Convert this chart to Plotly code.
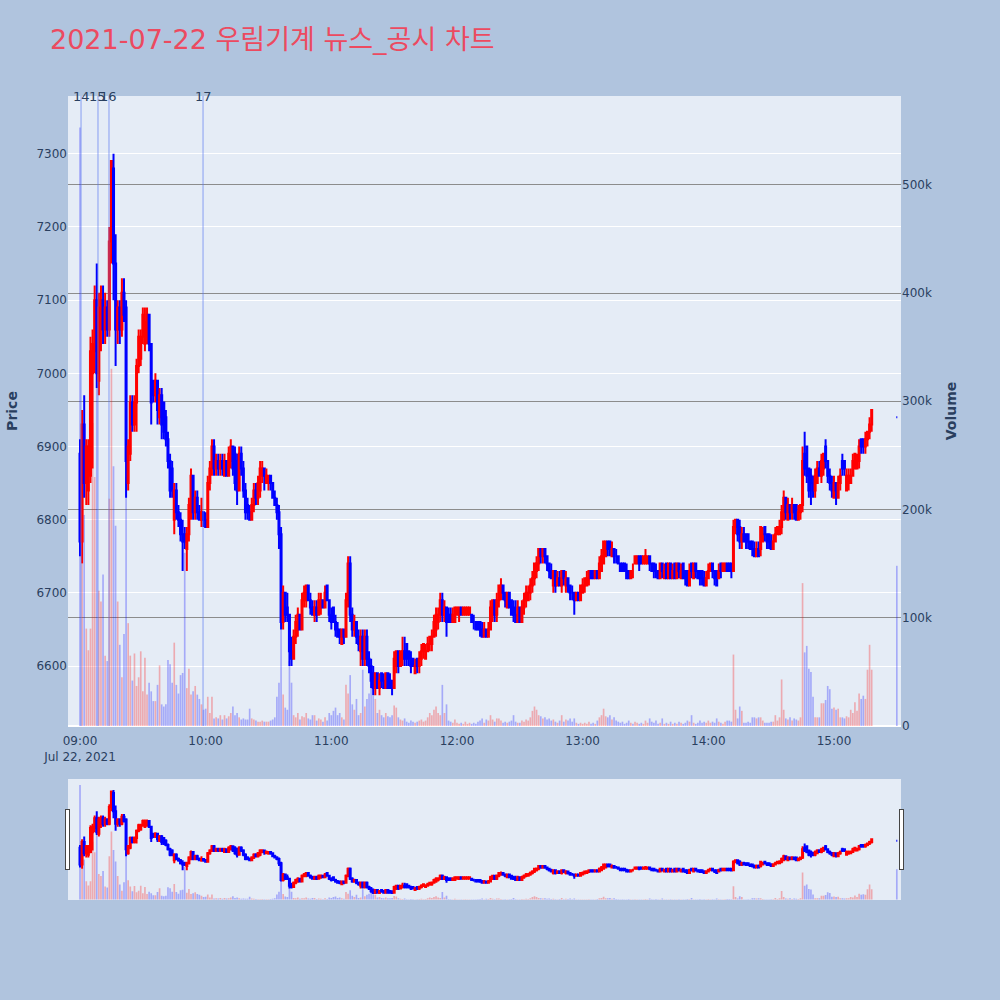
import pandas as pd
import plotly.graph_objects as go

# ---------------- data ----------------
session_start = "2021-07-22 09:00"
n_minutes = 379
closing_auction_time = "2021-07-22 15:30"

opens = [
    6890, 6770, 6930, 6850, 6840, 6860, 7000, 7030, 7100, 6990,
    7060, 7100, 7060, 7090, 7060, 7180, 7280, 7150, 7060, 7090,
    7060, 7110, 7090, 6850, 6890, 6960, 6930, 6960, 7010, 7020,
    7050, 7040, 7050, 7080, 7040, 6990, 6970, 6990, 6940, 6970,
    6960, 6940, 6910, 6880, 6870, 6800, 6840, 6810, 6800, 6780,
    6780, 6760, 6780, 6810, 6860, 6810, 6830, 6810, 6800, 6810,
    6800, 6790, 6850, 6870, 6900, 6870, 6880, 6870, 6880, 6860,
    6880, 6860, 6880, 6900, 6890, 6880, 6840, 6890, 6870, 6840,
    6820, 6810, 6800, 6820, 6840, 6830, 6840, 6860, 6870, 6850,
    6850, 6860, 6850, 6830, 6820, 6810, 6780, 6660, 6700, 6680,
    6670, 6620, 6610, 6640, 6650, 6670, 6650, 6690, 6690, 6710,
    6690, 6680, 6670, 6680, 6670, 6680, 6690, 6680, 6710, 6690,
    6670, 6680, 6660, 6650, 6650, 6630, 6650, 6640, 6690, 6740,
    6670, 6650, 6660, 6640, 6620, 6640, 6610, 6640, 6610, 6600,
    6590, 6570, 6590, 6570, 6590, 6580, 6570, 6590, 6580, 6580,
    6570, 6600, 6620, 6600, 6610, 6620, 6630, 6620, 6610, 6610,
    6590, 6610, 6600, 6610, 6620, 6610, 6620, 6630, 6630, 6640,
    6650, 6660, 6670, 6690, 6670, 6680, 6670, 6670, 6660, 6660,
    6670, 6670, 6680, 6670, 6670, 6670, 6670, 6670, 6660, 6660,
    6660, 6660, 6650, 6640, 6650, 6640, 6650, 6670, 6690, 6670,
    6690, 6700, 6710, 6700, 6680, 6700, 6690, 6680, 6670, 6660,
    6680, 6660, 6680, 6690, 6690, 6700, 6710, 6720, 6730, 6740,
    6760, 6750, 6760, 6750, 6740, 6730, 6710, 6730, 6710, 6720,
    6710, 6730, 6710, 6720, 6710, 6700, 6700, 6690, 6700, 6690,
    6700, 6710, 6710, 6720, 6730, 6730, 6720, 6730, 6720, 6730,
    6740, 6750, 6770, 6770, 6750, 6760, 6750, 6750, 6740, 6740,
    6740, 6730, 6730, 6720, 6730, 6740, 6740, 6750, 6750, 6740,
    6740, 6740, 6750, 6740, 6740, 6730, 6730, 6720, 6740, 6720,
    6740, 6720, 6740, 6720, 6740, 6720, 6740, 6720, 6740, 6730,
    6730, 6710, 6740, 6720, 6740, 6730, 6730, 6730, 6720, 6710,
    6720, 6730, 6740, 6730, 6730, 6720, 6740, 6730, 6730, 6740,
    6740, 6740, 6730, 6790, 6800, 6790, 6770, 6780, 6780, 6780,
    6770, 6770, 6760, 6750, 6760, 6760, 6770, 6790, 6780, 6780,
    6770, 6760, 6770, 6780, 6780, 6790, 6800, 6830, 6800, 6820,
    6810, 6820, 6820, 6800, 6810, 6820, 6890, 6900, 6870, 6860,
    6850, 6840, 6850, 6870, 6860, 6870, 6900, 6880, 6860, 6850,
    6830, 6850, 6830, 6850, 6880, 6880, 6840, 6850, 6850, 6860,
    6870, 6870, 6880, 6910, 6910, 6900, 6910, 6920, 6930,
    6940,
]
highs = [
    6910, 6950, 6970, 6910, 6910, 7050, 7060, 7120, 7150, 7110,
    7120, 7120, 7110, 7100, 7200, 7290, 7300, 7190, 7100, 7100,
    7130, 7130, 7100, 6910, 6970, 6970, 6970, 7020, 7060, 7060,
    7090, 7090, 7090, 7080, 7040, 6990, 7000, 6990, 6980, 6980,
    6960, 6950, 6920, 6890, 6880, 6850, 6850, 6820, 6810, 6800,
    6790, 6790, 6830, 6870, 6860, 6840, 6840, 6820, 6830, 6810,
    6810, 6860, 6880, 6910, 6910, 6890, 6890, 6890, 6890, 6890,
    6880, 6900, 6910, 6900, 6900, 6890, 6900, 6900, 6880, 6850,
    6830, 6820, 6830, 6850, 6850, 6860, 6880, 6880, 6870, 6870,
    6860, 6860, 6850, 6840, 6830, 6820, 6790, 6710, 6700, 6700,
    6670, 6640, 6650, 6670, 6680, 6670, 6700, 6710, 6710, 6710,
    6700, 6690, 6690, 6690, 6700, 6700, 6690, 6710, 6710, 6690,
    6680, 6680, 6670, 6660, 6650, 6650, 6650, 6700, 6750, 6750,
    6680, 6670, 6660, 6650, 6650, 6650, 6650, 6650, 6620, 6610,
    6600, 6590, 6590, 6590, 6590, 6590, 6590, 6590, 6590, 6580,
    6620, 6620, 6620, 6620, 6640, 6640, 6630, 6620, 6620, 6610,
    6610, 6610, 6620, 6630, 6630, 6630, 6640, 6640, 6650, 6670,
    6680, 6680, 6700, 6700, 6690, 6680, 6680, 6680, 6680, 6680,
    6680, 6680, 6680, 6680, 6680, 6680, 6680, 6670, 6670, 6660,
    6660, 6660, 6660, 6660, 6650, 6660, 6690, 6690, 6690, 6700,
    6710, 6720, 6710, 6700, 6700, 6700, 6690, 6690, 6690, 6690,
    6680, 6690, 6700, 6710, 6710, 6720, 6730, 6740, 6750, 6760,
    6760, 6760, 6760, 6750, 6740, 6740, 6730, 6730, 6730, 6730,
    6730, 6730, 6730, 6720, 6710, 6710, 6700, 6700, 6700, 6710,
    6720, 6720, 6730, 6730, 6730, 6730, 6730, 6730, 6750, 6760,
    6770, 6770, 6770, 6770, 6770, 6760, 6760, 6750, 6740, 6740,
    6740, 6740, 6730, 6730, 6740, 6750, 6750, 6750, 6750, 6750,
    6760, 6750, 6750, 6740, 6740, 6740, 6730, 6740, 6740, 6740,
    6740, 6740, 6740, 6740, 6740, 6740, 6740, 6740, 6740, 6730,
    6730, 6740, 6740, 6740, 6740, 6730, 6730, 6730, 6730, 6730,
    6740, 6740, 6740, 6730, 6730, 6740, 6740, 6740, 6740, 6740,
    6740, 6740, 6800, 6800, 6800, 6800, 6790, 6790, 6780, 6780,
    6770, 6770, 6770, 6770, 6770, 6790, 6790, 6790, 6780, 6780,
    6780, 6780, 6790, 6790, 6800, 6820, 6840, 6830, 6830, 6820,
    6830, 6820, 6820, 6820, 6820, 6900, 6920, 6900, 6870, 6870,
    6860, 6870, 6880, 6880, 6890, 6890, 6910, 6880, 6870, 6860,
    6860, 6850, 6860, 6870, 6890, 6880, 6870, 6870, 6870, 6890,
    6890, 6890, 6910, 6910, 6910, 6920, 6920, 6940, 6950,
    6940,
]
lows = [
    6750, 6740, 6830, 6820, 6820, 6850, 6870, 7000, 6980, 6970,
    7030, 7040, 7040, 7050, 7050, 7150, 7100, 7010, 7040, 7040,
    7050, 7070, 6830, 6840, 6880, 6920, 6920, 6920, 7000, 7010,
    7040, 7030, 7040, 7030, 6930, 6960, 6960, 6930, 6930, 6910,
    6910, 6900, 6870, 6830, 6830, 6780, 6800, 6790, 6770, 6730,
    6760, 6730, 6770, 6800, 6800, 6800, 6800, 6800, 6790, 6790,
    6790, 6790, 6840, 6860, 6860, 6860, 6860, 6860, 6860, 6860,
    6860, 6860, 6870, 6860, 6840, 6820, 6840, 6860, 6830, 6800,
    6800, 6800, 6800, 6810, 6820, 6820, 6830, 6850, 6840, 6850,
    6840, 6840, 6830, 6820, 6800, 6760, 6650, 6650, 6660, 6660,
    6600, 6600, 6610, 6630, 6640, 6650, 6650, 6680, 6680, 6690,
    6670, 6670, 6660, 6660, 6670, 6670, 6680, 6680, 6690, 6660,
    6650, 6660, 6640, 6640, 6630, 6630, 6630, 6640, 6680, 6660,
    6640, 6640, 6630, 6620, 6600, 6600, 6600, 6600, 6590, 6570,
    6560, 6560, 6570, 6560, 6570, 6570, 6570, 6570, 6570, 6560,
    6570, 6590, 6590, 6600, 6600, 6600, 6600, 6600, 6590, 6600,
    6590, 6590, 6590, 6600, 6610, 6610, 6620, 6620, 6620, 6640,
    6640, 6650, 6660, 6660, 6660, 6640, 6660, 6660, 6660, 6660,
    6670, 6660, 6670, 6670, 6670, 6670, 6670, 6660, 6650, 6650,
    6650, 6640, 6640, 6640, 6640, 6640, 6650, 6660, 6660, 6660,
    6680, 6690, 6690, 6680, 6680, 6680, 6670, 6660, 6660, 6660,
    6660, 6660, 6670, 6680, 6690, 6690, 6700, 6710, 6720, 6730,
    6740, 6740, 6740, 6730, 6720, 6720, 6700, 6700, 6710, 6710,
    6700, 6710, 6700, 6700, 6690, 6690, 6670, 6690, 6690, 6690,
    6700, 6700, 6710, 6710, 6720, 6720, 6720, 6720, 6720, 6730,
    6740, 6750, 6750, 6750, 6750, 6740, 6740, 6740, 6730, 6730,
    6730, 6720, 6720, 6720, 6720, 6740, 6740, 6730, 6740, 6740,
    6740, 6740, 6730, 6730, 6720, 6720, 6720, 6720, 6720, 6720,
    6720, 6720, 6720, 6720, 6720, 6720, 6720, 6720, 6720, 6710,
    6710, 6710, 6720, 6720, 6720, 6720, 6710, 6710, 6710, 6710,
    6720, 6730, 6720, 6710, 6710, 6720, 6720, 6730, 6730, 6730,
    6730, 6720, 6730, 6780, 6770, 6760, 6760, 6770, 6760, 6760,
    6760, 6750, 6750, 6750, 6750, 6750, 6770, 6770, 6760, 6760,
    6760, 6760, 6770, 6780, 6780, 6780, 6800, 6800, 6800, 6800,
    6800, 6800, 6800, 6800, 6800, 6810, 6860, 6850, 6830, 6820,
    6830, 6830, 6850, 6860, 6850, 6860, 6870, 6850, 6840, 6830,
    6830, 6820, 6830, 6840, 6860, 6860, 6840, 6840, 6850, 6860,
    6870, 6870, 6870, 6890, 6890, 6890, 6900, 6910, 6920,
    6940,
]
closes = [
    6770, 6930, 6850, 6900, 6900, 7030, 7040, 7100, 7000, 7090,
    7100, 7060, 7090, 7060, 7180, 7290, 7150, 7060, 7090, 7060,
    7110, 7080, 6880, 6900, 6960, 6930, 6960, 7010, 7050, 7050,
    7080, 7070, 7080, 7040, 6960, 6970, 6990, 6950, 6970, 6930,
    6920, 6910, 6880, 6840, 6840, 6840, 6810, 6800, 6780, 6770,
    6770, 6780, 6820, 6860, 6810, 6830, 6810, 6800, 6810, 6800,
    6790, 6850, 6870, 6900, 6870, 6880, 6870, 6880, 6870, 6880,
    6860, 6890, 6900, 6870, 6850, 6840, 6890, 6870, 6840, 6810,
    6810, 6800, 6820, 6840, 6830, 6850, 6870, 6870, 6860, 6860,
    6860, 6850, 6830, 6820, 6810, 6780, 6660, 6700, 6670, 6670,
    6620, 6610, 6640, 6660, 6670, 6650, 6690, 6700, 6710, 6690,
    6680, 6670, 6680, 6670, 6690, 6690, 6680, 6700, 6690, 6670,
    6660, 6660, 6650, 6640, 6640, 6650, 6640, 6690, 6740, 6670,
    6650, 6660, 6640, 6630, 6640, 6610, 6640, 6610, 6600, 6580,
    6570, 6590, 6570, 6580, 6580, 6570, 6590, 6570, 6570, 6570,
    6610, 6620, 6600, 6620, 6620, 6610, 6610, 6610, 6600, 6600,
    6600, 6600, 6610, 6620, 6630, 6620, 6630, 6640, 6640, 6660,
    6670, 6670, 6690, 6670, 6680, 6660, 6660, 6660, 6670, 6680,
    6680, 6680, 6670, 6680, 6680, 6680, 6680, 6660, 6660, 6650,
    6650, 6650, 6640, 6650, 6640, 6650, 6680, 6690, 6670, 6690,
    6710, 6710, 6700, 6690, 6700, 6680, 6670, 6670, 6660, 6680,
    6660, 6680, 6690, 6700, 6700, 6710, 6720, 6740, 6740, 6760,
    6750, 6760, 6750, 6740, 6730, 6720, 6730, 6710, 6720, 6710,
    6730, 6720, 6720, 6710, 6700, 6700, 6690, 6700, 6690, 6710,
    6710, 6720, 6720, 6730, 6720, 6720, 6730, 6720, 6740, 6750,
    6770, 6770, 6760, 6760, 6760, 6750, 6750, 6740, 6730, 6730,
    6730, 6720, 6720, 6730, 6730, 6750, 6750, 6740, 6740, 6750,
    6750, 6750, 6740, 6730, 6730, 6730, 6720, 6740, 6730, 6730,
    6720, 6740, 6720, 6730, 6720, 6740, 6730, 6730, 6720, 6720,
    6710, 6730, 6730, 6740, 6730, 6720, 6720, 6720, 6710, 6720,
    6730, 6740, 6730, 6720, 6710, 6730, 6730, 6740, 6740, 6730,
    6730, 6730, 6790, 6800, 6780, 6770, 6780, 6770, 6770, 6770,
    6760, 6760, 6750, 6760, 6750, 6790, 6780, 6780, 6770, 6770,
    6760, 6770, 6780, 6790, 6790, 6810, 6830, 6810, 6820, 6810,
    6820, 6810, 6800, 6810, 6820, 6880, 6870, 6860, 6840, 6850,
    6840, 6860, 6870, 6860, 6880, 6890, 6880, 6860, 6850, 6840,
    6850, 6840, 6850, 6860, 6870, 6870, 6860, 6860, 6860, 6880,
    6890, 6880, 6900, 6900, 6900, 6910, 6920, 6930, 6950,
    6940,
]
volumes_k = [
    553, 150, 195, 90, 70, 90, 280, 230, 315, 125,
    115, 140, 65, 60, 210, 330, 240, 185, 115, 75,
    45, 85, 230, 95, 65, 42, 67, 37, 45, 69,
    32, 63, 29, 40, 32, 23, 23, 38, 56, 20,
    18, 20, 61, 57, 40, 77, 38, 30, 47, 49,
    160, 35, 53, 29, 32, 37, 29, 25, 20, 15,
    16, 27, 12, 27, 7, 8, 7, 10, 6, 10,
    7, 9, 12, 18, 10, 12, 8, 6, 7, 6,
    6, 16, 7, 6, 5, 4, 4, 5, 4, 4,
    4, 5, 6, 8, 27, 40, 95, 29, 17, 15,
    60, 40, 10, 8, 12, 6, 9, 8, 12, 7,
    6, 10, 10, 5, 7, 6, 4, 8, 5, 12,
    10, 14, 17, 10, 12, 8, 6, 38, 30, 47,
    20, 15, 25, 10, 12, 52, 18, 25, 30, 47,
    28, 25, 12, 15, 10, 8, 12, 9, 8, 10,
    19, 17, 8, 6, 5, 7, 4, 3, 5, 4,
    3, 4, 5, 6, 4, 5, 8, 12, 10, 15,
    18, 12, 10, 38, 12, 20, 5, 4, 3, 6,
    3, 2, 3, 2, 4, 2, 3, 2, 3, 2,
    4, 5, 7, 3, 6, 5, 10, 6, 4, 7,
    7, 5, 3, 4, 3, 4, 5, 10, 4, 3,
    3, 5, 4, 6, 5, 8, 14, 18, 15, 10,
    9, 7, 8, 6, 7, 5, 6, 4, 3, 5,
    10, 4, 6, 5, 7, 4, 7, 3, 2, 3,
    2, 3, 2, 4, 2, 3, 2, 5, 8, 10,
    16, 9, 8, 10, 6, 8, 5, 4, 3, 4,
    2, 3, 5, 3, 2, 4, 3, 2, 3, 2,
    5, 3, 7, 4, 3, 5, 2, 3, 7, 2,
    3, 2, 4, 2, 3, 2, 4, 3, 2, 3,
    5, 4, 10, 3, 2, 3, 5, 3, 4, 3,
    5, 3, 4, 3, 7, 4, 3, 2, 4, 5,
    5, 4, 66, 15, 7, 18, 14, 3, 3, 4,
    3, 8, 8, 7, 8, 8, 5, 3, 3, 3,
    4, 4, 10, 5, 8, 43, 15, 7, 6, 8,
    5, 7, 6, 5, 8, 132, 68, 74, 53, 50,
    27, 8, 8, 8, 21, 21, 24, 37, 34, 16,
    17, 15, 16, 8, 8, 7, 9, 8, 15, 12,
    22, 14, 30, 25, 28, 25, 52, 75, 52,
    148,
]

news_labels = ["14", "15", "16", "17"]
news_times = ["2021-07-22 09:00:30", "2021-07-22 09:08:35",
              "2021-07-22 09:13:50", "2021-07-22 09:58:45"]

title_text = "2021-07-22 우림기계 뉴스_공시 차트"

# ---------------- build ----------------
times = list(pd.date_range(session_start, periods=n_minutes, freq="min")) + [pd.Timestamp(closing_auction_time)]
volumes = [v * 1000 for v in volumes_k]
vol_colors = ["rgba(255,0,0,0.28)" if c > o else "rgba(0,0,255,0.28)" for o, c in zip(opens, closes)]

fig = go.Figure()
fig.add_trace(go.Bar(
    x=times, y=volumes, marker=dict(color=vol_colors, line=dict(width=0)),
    yaxis="y", name="Volume", showlegend=False,
))
fig.add_trace(go.Candlestick(
    x=times, open=opens, high=highs, low=lows, close=closes,
    increasing=dict(line=dict(color="#FF0000", width=2), fillcolor="#FF0000"),
    decreasing=dict(line=dict(color="#0000FF", width=2), fillcolor="#0000FF"),
    yaxis="y2", name="Price", showlegend=False,
))

shapes = []
annotations = []
for lab, t in zip(news_labels, news_times):
    shapes.append(dict(type="line", xref="x", yref="paper", x0=t, x1=t, y0=0, y1=1,
                       line=dict(color="rgba(90,120,240,0.45)", width=1.5)))
    annotations.append(dict(x=t, y=1, xref="x", yref="paper", text=lab, showarrow=False,
                            xanchor="center", yanchor="middle",
                            font=dict(size=13, color="#2a3f5f", family="DejaVu Sans")))

x_range = ["2021-07-22 08:54:16", "2021-07-22 15:32:00"]

fig.update_layout(
    width=1000, height=1000,
    paper_bgcolor="#B0C4DE",
    plot_bgcolor="#E5ECF6",
    font=dict(family="DejaVu Sans", size=12, color="#2a3f5f"),
    title=dict(text=title_text, x=0.05, xanchor="left", y=0.96, yanchor="middle",
               font=dict(size=27, color="#EC4A60", family="DejaVu Sans, Noto Sans CJK KR")),
    margin=dict(l=68, r=99, t=96, b=100),
    shapes=shapes, annotations=annotations,
    showlegend=False,
    xaxis=dict(
        type="date",
        range=x_range,
        showgrid=False,
        ticks="outside", ticklen=4, tickcolor="rgba(0,0,0,0)",
        rangeslider=dict(visible=True, thickness=0.15, range=x_range),
    ),
    yaxis=dict(
        title=dict(text="<b>Volume</b>", font=dict(size=14)),
        side="right", range=[0, 582000],
        gridcolor="#8C8C8C", gridwidth=1,
        zeroline=True, zerolinecolor="white", zerolinewidth=2,
        tickvals=[0, 100000, 200000, 300000, 400000, 500000],
        ticktext=["0", "100k", "200k", "300k", "400k", "500k"],
    ),
    yaxis2=dict(
        title=dict(text="<b>Price</b>", font=dict(size=14)),
        side="left", overlaying="y", range=[6518, 7379],
        gridcolor="white", gridwidth=1, showgrid=True,
        dtick=100,
    ),
)

fig.write_html("out.html",
               config={"displayModeBar": False},
               post_script="document.body.style.margin='0';document.body.style.overflow='hidden';")
